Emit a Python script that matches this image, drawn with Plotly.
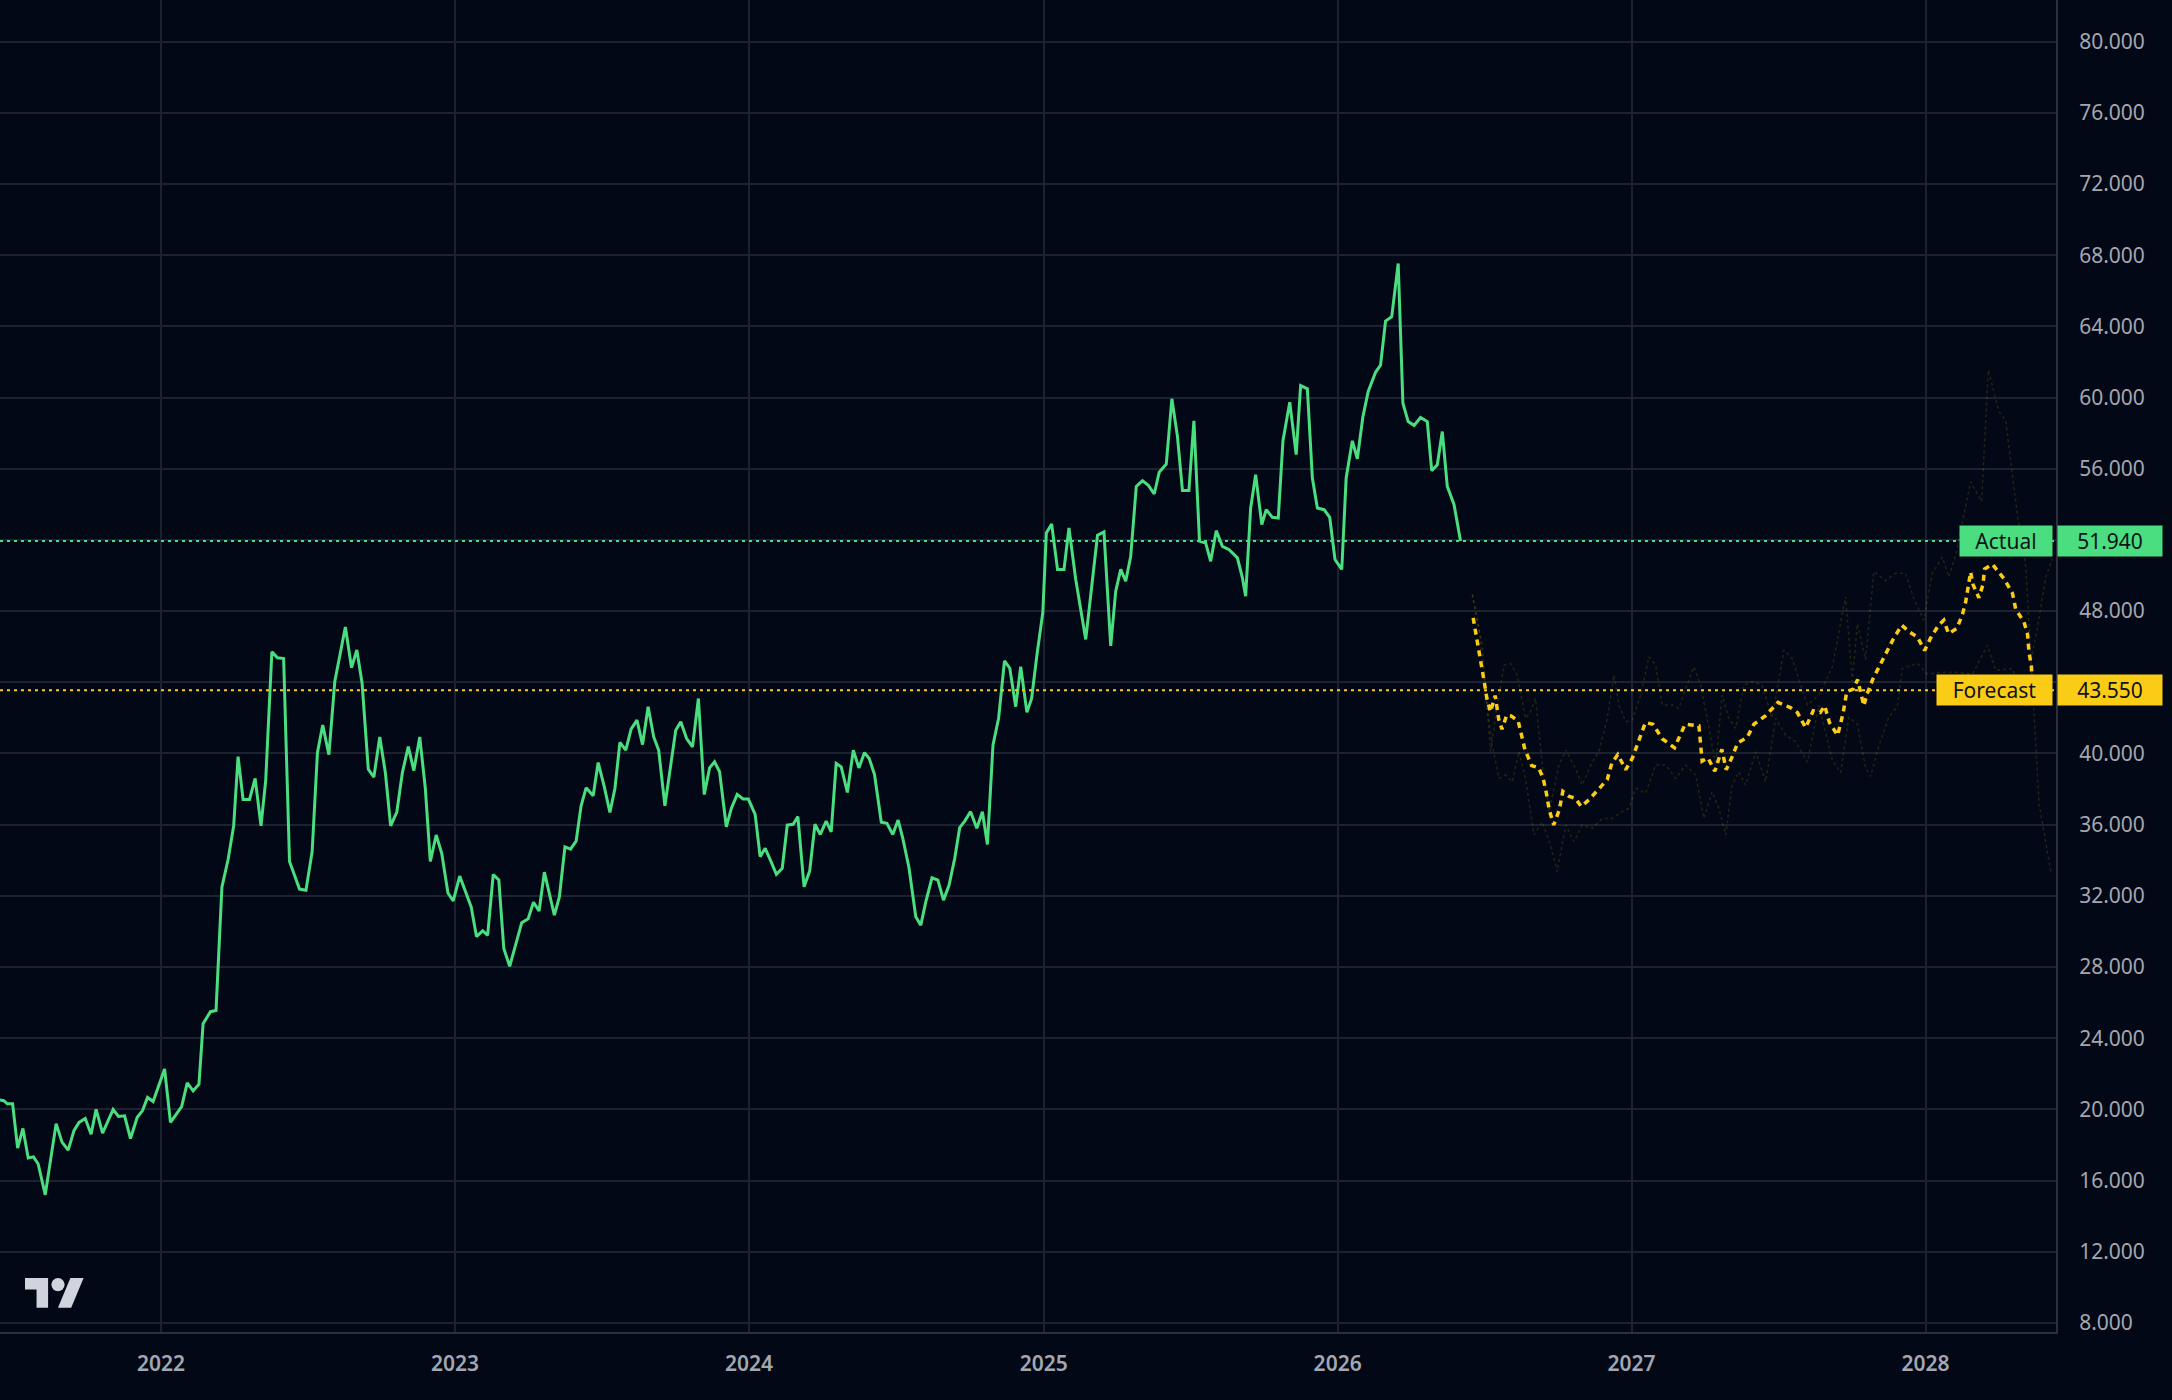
import pandas as pd
import plotly.graph_objects as go

# weekly closes (decimal year, value)
actual_t = [2021.451, 2021.465, 2021.477, 2021.495, 2021.512, 2021.530, 2021.548, 2021.566, 2021.582, 2021.606,
            2021.643, 2021.663, 2021.684, 2021.704, 2021.721, 2021.742, 2021.762, 2021.779, 2021.801, 2021.837,
            2021.855, 2021.876, 2021.896, 2021.919, 2021.937, 2021.954, 2021.973, 2022.012, 2022.032, 2022.070,
            2022.089, 2022.109, 2022.129, 2022.143, 2022.168, 2022.187, 2022.207, 2022.228, 2022.247, 2022.262,
            2022.279, 2022.301, 2022.320, 2022.340, 2022.356, 2022.377, 2022.396, 2022.417, 2022.437, 2022.471,
            2022.493, 2022.514, 2022.532, 2022.550, 2022.571, 2022.591, 2022.627, 2022.648, 2022.666, 2022.684,
            2022.705, 2022.724, 2022.744, 2022.763, 2022.781, 2022.802, 2022.821, 2022.841, 2022.860, 2022.880,
            2022.899, 2022.916, 2022.936, 2022.955, 2022.976, 2022.994, 2023.016, 2023.036, 2023.055, 2023.073,
            2023.094, 2023.111, 2023.130, 2023.149, 2023.166, 2023.186, 2023.207, 2023.227, 2023.249, 2023.267,
            2023.286, 2023.304, 2023.338, 2023.355, 2023.374, 2023.393, 2023.412, 2023.429, 2023.446, 2023.470,
            2023.487, 2023.508, 2023.527, 2023.544, 2023.561, 2023.581, 2023.599, 2023.619, 2023.638, 2023.657,
            2023.676, 2023.693, 2023.714, 2023.730, 2023.751, 2023.768, 2023.788, 2023.808, 2023.828, 2023.848,
            2023.866, 2023.883, 2023.900, 2023.923, 2023.940, 2023.960, 2023.980, 2023.998, 2024.021, 2024.038,
            2024.055, 2024.075, 2024.093, 2024.113, 2024.130, 2024.150, 2024.166, 2024.187, 2024.206, 2024.224,
            2024.242, 2024.262, 2024.279, 2024.296, 2024.313, 2024.334, 2024.354, 2024.373, 2024.392, 2024.408,
            2024.426, 2024.449, 2024.468, 2024.488, 2024.506, 2024.522, 2024.543, 2024.566, 2024.583, 2024.600,
            2024.621, 2024.641, 2024.660, 2024.679, 2024.698, 2024.715, 2024.732, 2024.752, 2024.773, 2024.792,
            2024.809, 2024.828, 2024.847, 2024.867, 2024.885, 2024.905, 2024.922, 2024.943, 2024.959, 2024.977,
            2024.997, 2025.009, 2025.027, 2025.047, 2025.069, 2025.086, 2025.109, 2025.143, 2025.183, 2025.205,
            2025.228, 2025.245, 2025.262, 2025.279, 2025.296, 2025.315, 2025.336, 2025.356, 2025.376, 2025.393,
            2025.417, 2025.436, 2025.455, 2025.472, 2025.494, 2025.511, 2025.530, 2025.551, 2025.568, 2025.587,
            2025.608, 2025.631, 2025.659, 2025.676, 2025.687, 2025.704, 2025.721, 2025.742, 2025.757, 2025.778,
            2025.798, 2025.814, 2025.837, 2025.859, 2025.874, 2025.897, 2025.914, 2025.931, 2025.954, 2025.973,
            2025.991, 2026.014, 2026.029, 2026.050, 2026.067, 2026.086, 2026.104, 2026.129, 2026.146, 2026.163,
            2026.184, 2026.206, 2026.222, 2026.240, 2026.260, 2026.282, 2026.305, 2026.320, 2026.339, 2026.356,
            2026.373, 2026.396, 2026.418]
actual_v = [20.53, 20.49, 20.31, 20.31, 17.82, 18.93, 17.27, 17.33, 16.93, 15.20,
            19.20, 18.16, 17.71, 18.82, 19.27, 19.49, 18.60, 20.00, 18.67, 20.00,
            19.60, 19.64, 18.36, 19.56, 19.93, 20.67, 20.44, 22.27, 19.27, 20.16,
            21.49, 21.04, 21.42, 24.82, 25.49, 25.56, 32.49, 34.04, 35.93, 39.82,
            37.42, 37.42, 38.60, 35.93, 38.49, 45.71, 45.38, 45.33, 33.93, 32.38,
            32.31, 34.49, 40.04, 41.60, 39.93, 44.04, 47.11, 44.82, 45.82, 43.93,
            39.11, 38.67, 40.93, 38.93, 35.93, 36.71, 38.93, 40.38, 39.04, 40.93,
            38.04, 33.93, 35.42, 34.38, 32.16, 31.71, 33.11, 32.16, 31.38, 29.71,
            30.04, 29.78, 33.20, 32.89, 29.04, 28.04, 29.27, 30.49, 30.71, 31.64,
            31.15, 33.33, 30.91, 31.94, 34.75, 34.62, 35.07, 37.06, 38.07, 37.62,
            39.49, 38.12, 36.68, 38.03, 40.62, 40.19, 41.37, 41.87, 40.50, 42.62,
            40.93, 40.18, 37.06, 38.78, 41.31, 41.78, 40.84, 40.37, 43.09, 37.69,
            39.19, 39.53, 38.97, 35.88, 36.91, 37.70, 37.44, 37.44, 36.58, 34.20,
            34.67, 33.92, 33.21, 33.55, 35.98, 36.02, 36.45, 32.51, 33.39, 36.02,
            35.45, 36.20, 35.60, 39.44, 39.25, 37.81, 40.18, 39.19, 40.05, 39.72,
            38.82, 36.13, 36.07, 35.45, 36.26, 35.23, 33.58, 30.82, 30.35, 31.66,
            33.01, 32.88, 31.76, 32.60, 34.10, 35.83, 36.20, 36.73, 35.80, 36.73,
            34.89, 40.48, 41.98, 45.20, 44.79, 42.63, 44.88, 42.31, 43.09, 45.53,
            47.93, 52.39, 52.90, 50.34, 50.34, 52.67, 49.78, 46.41, 52.26, 52.45,
            46.04, 49.12, 50.34, 49.68, 51.08, 55.01, 55.33, 55.07, 54.58, 55.81,
            56.26, 59.93, 57.82, 54.77, 54.77, 58.69, 51.93, 51.83, 50.80, 52.52,
            51.64, 51.45, 50.99, 49.87, 48.84, 53.79, 55.66, 52.86, 53.70, 53.27,
            53.23, 57.57, 59.74, 56.79, 60.67, 60.49, 55.48, 53.79, 53.70, 53.27,
            50.90, 50.34, 55.48, 57.57, 56.56, 58.93, 60.34, 61.42, 61.83, 64.30,
            64.54, 67.53, 59.68, 58.65, 58.43, 58.88, 58.65, 55.89, 56.22, 58.09,
            55.01, 53.98, 51.94]

forecast_t = [2026.461, 2026.474, 2026.486, 2026.497, 2026.508, 2026.520, 2026.536, 2026.548, 2026.559, 2026.575,
              2026.590, 2026.614, 2026.637, 2026.660, 2026.684, 2026.699, 2026.710, 2026.720, 2026.735, 2026.754,
              2026.766, 2026.788, 2026.808, 2026.829, 2026.855, 2026.875, 2026.894, 2026.917, 2026.933, 2026.953,
              2026.980, 2027.003, 2027.026, 2027.047, 2027.073, 2027.104, 2027.146, 2027.182, 2027.229, 2027.240,
              2027.260, 2027.283, 2027.307, 2027.322, 2027.343, 2027.361, 2027.393, 2027.416, 2027.455, 2027.498,
              2027.540, 2027.564, 2027.592, 2027.618, 2027.642, 2027.657, 2027.673, 2027.701, 2027.720, 2027.732,
              2027.754, 2027.769, 2027.790, 2027.801, 2027.821, 2027.844, 2027.863, 2027.891, 2027.919, 2027.945,
              2027.972, 2027.997, 2028.016, 2028.044, 2028.062, 2028.078, 2028.106, 2028.125, 2028.136, 2028.147,
              2028.153, 2028.161, 2028.181, 2028.195, 2028.200, 2028.227, 2028.266, 2028.295, 2028.306, 2028.334,
              2028.346, 2028.351, 2028.359, 2028.364]
forecast_v = [47.62, 46.45, 45.32, 44.19, 43.06, 42.34, 43.25, 41.92, 41.36, 42.15,
              42.11, 41.83, 40.23, 39.32, 39.19, 38.62, 37.77, 36.83, 35.98, 36.83,
              37.87, 37.58, 37.49, 37.02, 37.40, 37.77, 38.15, 38.53, 39.47, 39.94,
              39.09, 39.75, 40.79, 41.74, 41.64, 40.83, 40.32, 41.64, 41.55, 39.57,
              39.75, 39.00, 40.23, 39.09, 39.85, 40.60, 40.89, 41.64, 42.11, 42.87,
              42.58, 42.30, 41.45, 42.40, 42.30, 42.68, 41.74, 41.02, 42.30, 43.47,
              43.62, 44.15, 42.68, 43.34, 44.19, 44.94, 45.60, 46.45, 47.21, 46.83,
              46.55, 45.79, 46.45, 47.21, 47.49, 46.74, 47.02, 47.80, 48.50, 49.50,
              50.20, 49.50, 48.75, 49.50, 50.36, 50.63, 49.82, 49.00, 48.10, 47.40,
              46.70, 45.70, 44.90, 43.55]

# faint scenario paths behind the forecast
upper_t = [2026.458, 2026.492, 2026.520, 2026.543, 2026.566, 2026.588, 2026.611, 2026.639, 2026.656, 2026.673,
           2026.696, 2026.719, 2026.753, 2026.776, 2026.804, 2026.832, 2026.861, 2026.889, 2026.917, 2026.940,
           2026.957, 2026.980, 2027.002, 2027.031, 2027.059, 2027.082, 2027.104, 2027.138, 2027.161, 2027.184,
           2027.212, 2027.235, 2027.257, 2027.286, 2027.308, 2027.331, 2027.354, 2027.382, 2027.410, 2027.444,
           2027.478, 2027.518, 2027.546, 2027.569, 2027.598, 2027.637, 2027.683, 2027.728, 2027.751, 2027.768,
           2027.796, 2027.824, 2027.864, 2027.898, 2027.932, 2027.960, 2027.994, 2028.023, 2028.057, 2028.079,
           2028.102, 2028.153, 2028.190, 2028.213, 2028.249, 2028.272, 2028.312, 2028.340, 2028.363, 2028.385,
           2028.425]
upper_v = [48.94, 46.09, 40.10, 42.72, 44.97, 45.06, 44.40, 41.97, 42.34, 43.09,
           39.35, 36.73, 39.35, 40.19, 39.35, 38.22, 39.35, 40.10, 41.97, 44.40,
           42.72, 41.78, 41.87, 43.28, 45.43, 44.97, 42.72, 42.72, 42.53, 43.66,
           44.87, 43.84, 41.97, 39.35, 43.28, 41.97, 41.41, 43.84, 44.03, 43.84,
           41.97, 45.81, 45.34, 44.22, 42.72, 43.28, 44.87, 48.81, 44.06, 47.29,
           45.27, 50.22, 49.72, 50.12, 50.12, 48.71, 47.49, 50.12, 51.03, 49.92,
           51.13, 55.27, 54.16, 61.54, 59.21, 58.71, 53.35, 50.53, 44.06, 37.19,
           33.35]
lower_t = [2026.458, 2026.481, 2026.503, 2026.526, 2026.549, 2026.571, 2026.594, 2026.617, 2026.639, 2026.668,
           2026.696, 2026.724, 2026.747, 2026.776, 2026.804, 2026.832, 2026.866, 2026.900, 2026.934, 2026.968,
           2026.991, 2027.014, 2027.048, 2027.082, 2027.116, 2027.150, 2027.184, 2027.218, 2027.246, 2027.274,
           2027.297, 2027.320, 2027.342, 2027.365, 2027.388, 2027.422, 2027.456, 2027.490, 2027.524, 2027.558,
           2027.598, 2027.637, 2027.683, 2027.711, 2027.739, 2027.768, 2027.796, 2027.813, 2027.841, 2027.875,
           2027.904, 2027.921, 2027.972, 2028.006, 2028.057, 2028.102, 2028.159, 2028.210, 2028.238, 2028.295,
           2028.340, 2028.363, 2028.380, 2028.408, 2028.431]
lower_v = [48.94, 47.03, 43.28, 40.47, 38.60, 38.79, 38.41, 40.10, 38.60, 35.42,
           36.16, 34.85, 33.36, 35.98, 35.04, 35.98, 35.79, 36.35, 36.35, 36.73,
           36.91, 38.04, 37.76, 39.35, 39.35, 38.60, 39.35, 38.79, 36.35, 37.85,
           36.91, 35.42, 38.22, 38.97, 38.22, 40.10, 38.41, 41.97, 41.03, 40.66,
           39.52, 42.72, 39.62, 38.91, 42.04, 41.64, 39.21, 38.71, 40.42, 42.04,
           42.65, 44.77, 45.07, 44.46, 44.57, 44.57, 44.46, 46.08, 44.67, 44.77,
           42.65, 45.68, 47.09, 49.92, 50.93]

year_ticks = [2022, 2023, 2024, 2025, 2026, 2027, 2028]
price_ticks = [8, 12, 16, 20, 24, 28, 32, 36, 40, 44, 48, 52, 56, 60, 64, 68, 72, 76, 80]

BG = "#030816"
GRID = "#1d2230"
GREEN = "#4ade80"
YELLOW = "#facc15"
FONT = "Noto Sans"

W, H = 2172, 1400
ML, MR, MT, MB = 0, 116, 0, 68
PW, PH = W - ML - MR, H - MT - MB


def to_date(ts):
    out = []
    for t in ts:
        yr = int(t)
        start = pd.Timestamp(yr, 1, 1)
        days = (pd.Timestamp(yr + 1, 1, 1) - start).days
        out.append(start + pd.Timedelta(days=(t - yr) * days))
    return out


fig = go.Figure()
for t, v in [(upper_t, upper_v), (lower_t, lower_v)]:
    fig.add_trace(go.Scatter(x=to_date(t), y=v, mode="lines", hoverinfo="skip",
                             line=dict(color="rgba(250,204,21,0.14)", width=1.5, dash="dot")))
fig.add_trace(go.Scatter(x=to_date(actual_t), y=actual_v, mode="lines", name="Actual",
                         line=dict(color=GREEN, width=3)))
fig.add_trace(go.Scatter(x=to_date(forecast_t), y=forecast_v, mode="lines", name="Forecast",
                         line=dict(color=YELLOW, width=3.5, dash="6px,5px")))

last_actual = actual_v[-1]
last_forecast = forecast_v[-1]

# price lines
fig.add_hline(y=last_actual, line=dict(color=GREEN, width=2, dash="3px,4px"))
fig.add_hline(y=last_forecast, line=dict(color=YELLOW, width=2, dash="3px,4px"))


def tag(text, y, color, x, anchor, width):
    fig.add_annotation(text=text, x=x, xref="paper", xanchor=anchor, y=y, yref="y",
                       showarrow=False, bgcolor=color, width=width, height=28, align="center",
                       borderpad=1, font=dict(family=FONT, size=21, color="#10131a"))


tag("Actual", last_actual, GREEN, 1 - 3 / PW, "right", 90)
tag(f"{last_actual:.3f}", last_actual, GREEN, 1 + 1 / PW, "left", 102)
tag("Forecast", last_forecast, YELLOW, 1 - 3 / PW, "right", 113)
tag(f"{last_forecast:.3f}", last_forecast, YELLOW, 1 + 1 / PW, "left", 102)

# the 44 and 52 labels sit under the price tags, so leave them blank
price_text = ["" if p in (44, 52) else f"{p:.3f}" for p in price_ticks]


# TradingView-style logo, drawn in pixel units of the plot area
def px(x, y):
    return f"{x / PW:.5f},{1 - y / PH:.5f}"


s, ox, oy = 1.65, 25, 1271.4
tee = [(14, 22), (7, 22), (7, 11), (0, 11), (0, 4), (14, 4)]
slash = [(28, 22), (20, 22), (27.5, 4), (35.5, 4)]
for poly in (tee, slash):
    pts = [px(ox + a * s, oy + b * s) for a, b in poly]
    path = "M" + " L".join(pts) + " Z"
    fig.add_shape(type="path", path=path, xref="paper", yref="paper",
                  fillcolor="#d1d4dc", line=dict(width=0))
fig.add_shape(type="circle", xref="paper", yref="paper",
              x0=(ox + 16 * s) / PW, x1=(ox + 24 * s) / PW,
              y0=1 - (oy + 12 * s) / PH, y1=1 - (oy + 4 * s) / PH,
              fillcolor="#d1d4dc", line=dict(width=0))

fig.update_layout(
    width=W, height=H, autosize=False,
    margin=dict(l=ML, r=MR, t=MT, b=MB),
    paper_bgcolor=BG, plot_bgcolor=BG,
    showlegend=False,
    font=dict(family=FONT, size=21, color="#a3a7b0"),
)
fig.update_xaxes(
    type="date", range=["2021-06-15", "2028-06-11"],
    tickvals=[f"{y}-01-01" for y in year_ticks], ticktext=[str(y) for y in year_ticks],
    showgrid=True, gridcolor=GRID, gridwidth=1.5, zeroline=False,
    showline=True, linecolor="#2b303d", linewidth=2,
    ticks="", ticklabelstandoff=12,
    tickfont=dict(family=FONT, size=21, color="#a3a7b0", weight=600),
)
fig.update_yaxes(
    side="right", range=[7.49, 82.34],
    tickvals=price_ticks, ticktext=price_text,
    showgrid=True, gridcolor=GRID, gridwidth=1.5, zeroline=False,
    showline=True, linecolor="#2b303d", linewidth=2, mirror=False,
    ticks="", ticklabelstandoff=17,
    tickfont=dict(family=FONT, size=21, color="#a3a7b0"),
)

fig.write_html("out.html", config={"displayModeBar": False},
               post_script="document.body.style.margin='0';document.body.style.background='#030816';")
